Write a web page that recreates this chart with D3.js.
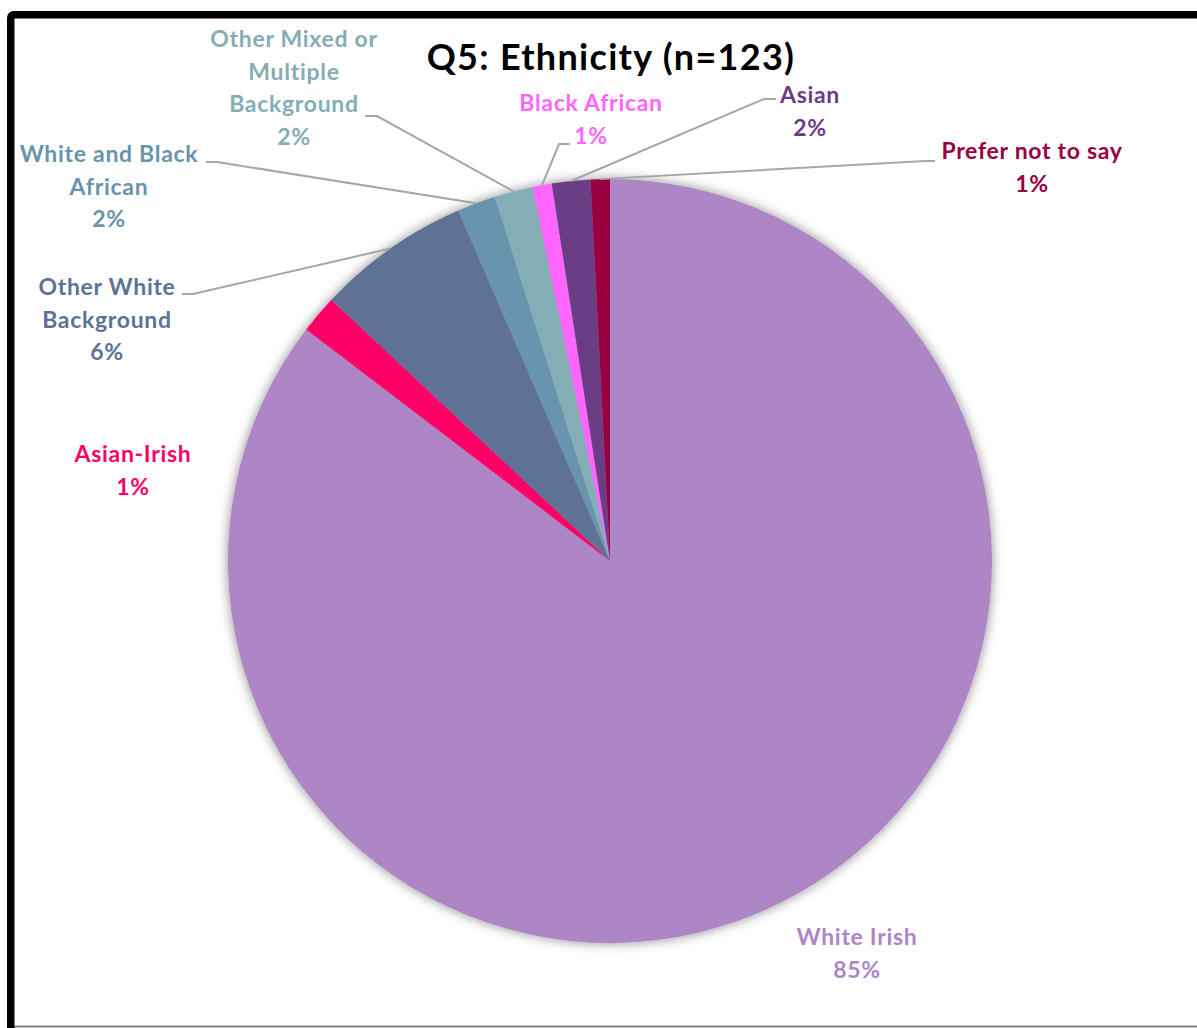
<!DOCTYPE html>
<html>
<head>
<meta charset="utf-8">
<script src="https://cdn.jsdelivr.net/npm/d3@7/dist/d3.min.js"></script>
<style>
  html, body { margin: 0; padding: 0; background: #fff; }
  svg { display: block; }
  text { font-family: Lato, "Open Sans", sans-serif; font-weight: 700; }
</style>
</head>
<body>
<svg id="chart" width="1197" height="1028"></svg>
<script>
// ---- Data ----
const title = "Q5: Ethnicity (n=123)";
const categories = ["White Irish", "Asian-Irish", "Other White Background", "White and Black African",
  "Other Mixed or Multiple Background", "Black African", "Asian", "Prefer not to say"];
const counts = [105, 2, 8, 2, 2, 1, 2, 1];
const pctLabels = ["85%", "1%", "6%", "2%", "2%", "1%", "2%", "1%"];
const labelLines = [
  ["White Irish"],
  ["Asian-Irish"],
  ["Other White", "Background"],
  ["White and Black", "African"],
  ["Other Mixed or", "Multiple", "Background"],
  ["Black African"],
  ["Asian"],
  ["Prefer not to say"]
];
const colors = ["#AE85C5", "#FF0066", "#5E7296", "#6894AD", "#84ADB6", "#FF66FF", "#6B3C84", "#9A0040"];

// ---- Layout ----
const W = 1197, H = 1028;
const cx = 610, cy = 561, R = 382;
const lineH = 32.6;
const labelPos = [
  { x: 857, y: 945, leader: null },
  { x: 133, y: 462, leader: null },
  { x: 107, y: 295, leader: { x0: 182, x1: 193, y: 294 } },
  { x: 109, y: 162, leader: { x0: 206, x1: 217, y: 162 } },
  { x: 294, y: 47,  leader: { x0: 365, x1: 377, y: 116 } },
  { x: 591, y: 111, leader: { x0: 570, x1: 559, y: 144 } },
  { x: 810, y: 103, leader: { x0: 776, x1: 764, y: 99 } },
  { x: 1032, y: 159, leader: { x0: 935, x1: 925, y: 161 } }
];

const svg = d3.select("#chart");

const defs = svg.append("defs");
const f = defs.append("filter").attr("id", "shadow")
  .attr("x", "-20%").attr("y", "-20%").attr("width", "140%").attr("height", "140%");
f.append("feDropShadow").attr("dx", 0).attr("dy", 0).attr("stdDeviation", 6)
  .attr("flood-color", "#000").attr("flood-opacity", 0.45);

svg.append("rect").attr("width", W).attr("height", H).attr("fill", "#fff");

// frame
svg.append("line").attr("x1", 14).attr("x2", W).attr("y1", 1026.5).attr("y2", 1026.5)
  .attr("stroke", "#7f7f7f").attr("stroke-width", 2);
svg.append("rect").attr("x", 10.75).attr("y", 14.75).attr("width", 1220).attr("height", 1040)
  .attr("rx", 3).attr("fill", "none").attr("stroke", "#000").attr("stroke-width", 7.5);

// title
svg.append("text").attr("x", 611).attr("y", 70).attr("text-anchor", "middle")
  .attr("font-size", 36).attr("letter-spacing", 1.3).attr("fill", "#000").text(title);

const pie = d3.pie().sort(null).value(d => d);
const arcs = pie(counts);
const arc = d3.arc().innerRadius(0).outerRadius(R);

const g = svg.append("g").attr("transform", `translate(${cx},${cy})`);
g.append("g").attr("filter", "url(#shadow)")
  .selectAll("path").data(arcs).join("path")
  .attr("d", arc).attr("fill", (d, i) => colors[i]);

// leader lines
arcs.forEach((d, i) => {
  const lp = labelPos[i].leader;
  if (!lp) return;
  const a = (d.startAngle + d.endAngle) / 2;
  const px = cx + R * Math.sin(a), py = cy - R * Math.cos(a);
  svg.append("polyline")
    .attr("points", `${lp.x0},${lp.y} ${lp.x1},${lp.y} ${px},${py}`)
    .attr("fill", "none").attr("stroke", "#A6A6A6").attr("stroke-width", 2);
});

// labels
arcs.forEach((d, i) => {
  const p = labelPos[i];
  const t = svg.append("text").attr("text-anchor", "middle").attr("font-size", 23)
    .attr("letter-spacing", 0.7).attr("fill", colors[i]);
  const lines = labelLines[i].concat([pctLabels[i]]);
  lines.forEach((s, k) => {
    t.append("tspan").attr("x", p.x).attr("y", p.y + k * lineH).text(s);
  });
});
</script>
</body>
</html>
